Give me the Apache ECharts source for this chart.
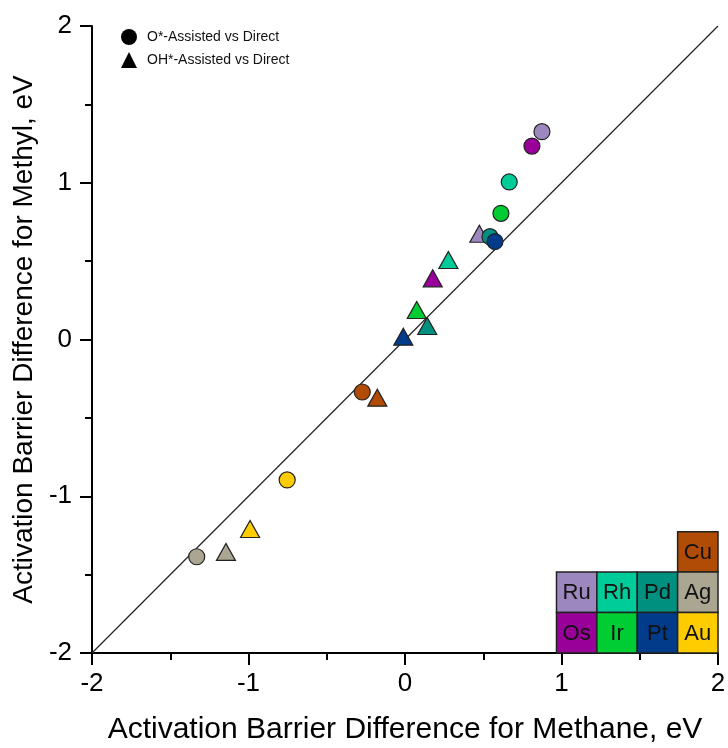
<!DOCTYPE html>
<html>
<head>
<meta charset="utf-8">
<script src="https://cdn.jsdelivr.net/npm/echarts@6/dist/echarts.min.js"></script>
<style>
  html, body { margin: 0; padding: 0; background: #fff; }
  #chart { width: 728px; height: 748px; }
</style>
</head>
<body>
<div id="chart"></div>
<script>
// metals in plot order
const metals = ['Ru', 'Os', 'Rh', 'Ir', 'Pd', 'Pt', 'Cu', 'Au', 'Ag']

// O*-assisted vs direct (circles)
const oMethane = [0.875, 0.811, 0.666, 0.613, 0.543, 0.575, -0.273, -0.753, -1.331]
const oMethyl = [1.326, 1.234, 1.005, 0.805, 0.656, 0.625, -0.335, -0.896, -1.386]

// OH*-assisted vs direct (triangles)
const ohMethane = [0.475, 0.177, 0.277, 0.075, 0.142, -0.011, -0.177, -0.990, -1.144]
const ohMethyl = [0.675, 0.390, 0.507, 0.188, 0.086, 0.018, -0.371, -1.209, -1.355]

// parity line
const parityLine = [[-2, -2], [2, 2]]

// periodic table inset
const tableRows = [
  [null, null, null, 'Cu'],
  ['Ru', 'Rh', 'Pd', 'Ag'],
  ['Os', 'Ir', 'Pt', 'Au']
]

const axisTicks = [-2, -1, 0, 1, 2]

const metalColors = {
  Ru: '#9d87bf',
  Rh: '#00cc99',
  Pd: '#00907f',
  Ag: '#aaa692',
  Cu: '#b04c06',
  Os: '#990099',
  Ir: '#00cc33',
  Pt: '#013b8a',
  Au: '#ffcc00'
}

const FONT = "'Liberation Sans', Arial, sans-serif"
const CELL = 0.258

function pointData(xs, ys) {
  return metals.map((m, i) => ({
    value: [xs[i], ys[i]],
    name: m,
    itemStyle: { color: metalColors[m] }
  }))
}

const cellData = []
tableRows.forEach((row, r) => {
  row.forEach((m, c) => {
    if (m) cellData.push([c, r, m])
  })
})

function renderCell(params, api) {
  const col = api.value(0)
  const row = api.value(1)
  const name = cellData[params.dataIndex][2]
  const x0 = 2 - 4 * CELL + col * CELL
  const yTop = -2 + (tableRows.length - row) * CELL
  const p0 = api.coord([x0, yTop])
  const p1 = api.coord([x0 + CELL, yTop - CELL])
  return {
    type: 'group',
    children: [
      {
        type: 'rect',
        shape: { x: p0[0], y: p0[1], width: p1[0] - p0[0], height: p1[1] - p0[1] },
        style: { fill: metalColors[name], stroke: '#222', lineWidth: 1.5 }
      },
      {
        type: 'text',
        style: {
          text: name,
          x: (p0[0] + p1[0]) / 2,
          y: (p0[1] + p1[1]) / 2 + 1,
          align: 'center',
          verticalAlign: 'middle',
          fill: '#111',
          font: '22px ' + FONT
        }
      }
    ]
  }
}

const axisCommon = {
  type: 'value',
  min: axisTicks[0],
  max: axisTicks[axisTicks.length - 1],
  interval: 1,
  nameLocation: 'middle',
  axisLine: { show: true, onZero: false, lineStyle: { color: '#000', width: 2 } },
  axisTick: { show: true, inside: false, length: 12, lineStyle: { color: '#000', width: 2 } },
  minorTick: { show: true, splitNumber: 2, length: 7, lineStyle: { color: '#000', width: 2 } },
  splitLine: { show: false },
  minorSplitLine: { show: false },
  axisLabel: {
    color: '#000',
    fontSize: 26,
    fontFamily: FONT,
    showMinLabel: true,
    showMaxLabel: true,
    hideOverlap: false
  }
}

const chart = echarts.init(document.getElementById('chart'), null, { renderer: 'canvas' })

chart.setOption({
  backgroundColor: '#fff',
  animation: false,
  grid: {
    left: 92,
    top: 26,
    right: 10,
    bottom: 95,
    containLabel: false,
    outerBoundsMode: 'none'
  },
  legend: {
    data: ['O*-Assisted vs Direct', 'OH*-Assisted vs Direct'],
    orient: 'vertical',
    left: 116,
    top: 24,
    itemWidth: 16,
    itemHeight: 16,
    itemGap: 7,
    itemStyle: { color: '#000', borderWidth: 0, opacity: 1 },
    textStyle: { color: '#111', fontSize: 14, fontFamily: FONT, padding: [0, 0, 0, 5] }
  },
  xAxis: {
    ...axisCommon,
    name: 'Activation Barrier Difference for Methane, eV',
    nameGap: 62,
    nameTextStyle: { color: '#000', fontSize: 30, fontFamily: FONT },
    axisLabel: { ...axisCommon.axisLabel, margin: 18 }
  },
  yAxis: {
    ...axisCommon,
    name: 'Activation Barrier Difference for Methyl, eV',
    nameGap: 51,
    nameTextStyle: { color: '#000', fontSize: 28, fontFamily: FONT },
    axisLabel: { ...axisCommon.axisLabel, margin: 20 }
  },
  series: [
    {
      name: 'parity',
      type: 'line',
      data: parityLine,
      symbol: 'none',
      silent: true,
      z: 1,
      lineStyle: { color: '#222', width: 1.2 }
    },
    {
      name: 'cells',
      type: 'custom',
      renderItem: renderCell,
      data: cellData,
      silent: true,
      z: 2
    },
    {
      name: 'OH*-Assisted vs Direct',
      type: 'scatter',
      symbol: 'triangle',
      symbolSize: [19, 17],
      z: 3,
      itemStyle: { color: '#000', borderColor: '#222', borderWidth: 1.2, opacity: 1 },
      data: pointData(ohMethane, ohMethyl)
    },
    {
      name: 'O*-Assisted vs Direct',
      type: 'scatter',
      symbol: 'circle',
      symbolSize: 16,
      z: 4,
      itemStyle: { color: '#000', borderColor: '#222', borderWidth: 1.2, opacity: 1 },
      data: pointData(oMethane, oMethyl)
    }
  ]
})
</script>
</body>
</html>
